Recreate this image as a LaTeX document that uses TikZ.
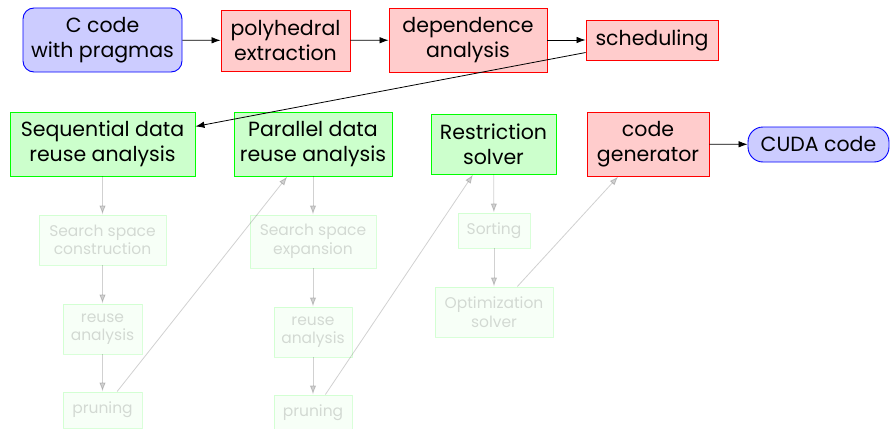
\documentclass[tikz,border=0pt]{standalone}
\usepackage{fontspec}
\setmainfont{Poppins}
\usetikzlibrary{arrows.meta}
\begin{document}
\begin{tikzpicture}[x=1pt,y=-1pt,
  box/.style={draw, line width=0.9pt, inner sep=0pt, align=center, font=\fontsize{20.5}{25}\selectfont},
  bluebox/.style={box, draw=blue, fill=blue!20, rounded corners=11pt},
  redbox/.style={box, draw=red, fill=red!20},
  greenbox/.style={box, draw=green, fill=green!20},
  faded/.style={draw=green, fill=green!20, line width=0.9pt, inner sep=0pt, align=center, opacity=0.15, font=\fontsize{15.5}{18.5}\selectfont},
  arr/.style={-{Latex[length=9pt,width=6.5pt]}, line width=0.8pt},
  farr/.style={arr, opacity=0.18}]
\useasboundingbox (0,0) rectangle (890,428);
\node[bluebox, minimum width=159pt, minimum height=64pt] (cfile) at (102.5,40) {C code\\with pragmas};
\node[redbox, minimum width=129pt, minimum height=61pt] (poly) at (285.5,40.5) {polyhedral\\extraction};
\node[redbox, minimum width=158pt, minimum height=64pt] (dep) at (468,40) {dependence\\analysis};
\node[redbox, minimum width=132pt, minimum height=40pt] (sched) at (652,40) {scheduling};
\node[greenbox, minimum width=185pt, minimum height=64pt] (seq) at (102.5,144) {Sequential data\\reuse analysis};
\node[greenbox, minimum width=158pt, minimum height=64pt] (par) at (313,144) {Parallel data\\reuse analysis};
\node[greenbox, minimum width=125pt, minimum height=60pt] (restr) at (493.5,144) {Restriction\\solver};
\node[redbox, minimum width=122pt, minimum height=64pt] (codegen) at (648,144) {code\\generator};
\node[bluebox, rounded corners=15pt, minimum width=141pt, minimum height=35pt] (cuda) at (818.5,144.5) {CUDA code};
\node[faded, minimum width=127pt, minimum height=50pt] (ssc) at (102.5,240) {Search space\\construction};
\node[faded, minimum width=79pt, minimum height=50pt] (ra1) at (102.5,329) {reuse\\analysis};
\node[faded, minimum width=79pt, minimum height=36pt] (pr1) at (102.5,410) {pruning};
\node[faded, minimum width=126pt, minimum height=53pt] (sse) at (313,241.5) {Search space\\expansion};
\node[faded, minimum width=78pt, minimum height=50pt] (ra2) at (313,332) {reuse\\analysis};
\node[faded, minimum width=78pt, minimum height=36pt] (pr2) at (313,413) {pruning};
\node[faded, minimum width=72pt, minimum height=35pt] (sort) at (494,230.5) {Sorting};
\node[faded, minimum width=118pt, minimum height=50pt] (opt) at (494,312) {Optimization\\solver};
\draw[arr] (cfile) -- (poly);
\draw[arr] (poly) -- (dep);
\draw[arr] (dep) -- (sched);
\draw[arr] (sched) -- (seq);
\draw[arr] (codegen) -- (cuda);
\draw[farr] (seq) -- (ssc);
\draw[farr] (ssc) -- (ra1);
\draw[farr] (ra1) -- (pr1);
\draw[farr] (pr1) -- (par);
\draw[farr] (par) -- (sse);
\draw[farr] (sse) -- (ra2);
\draw[farr] (ra2) -- (pr2);
\draw[farr] (pr2) -- (restr);
\draw[farr] (restr) -- (sort);
\draw[farr] (sort) -- (opt);
\draw[farr] (opt) -- (codegen);
\end{tikzpicture}
\end{document}
